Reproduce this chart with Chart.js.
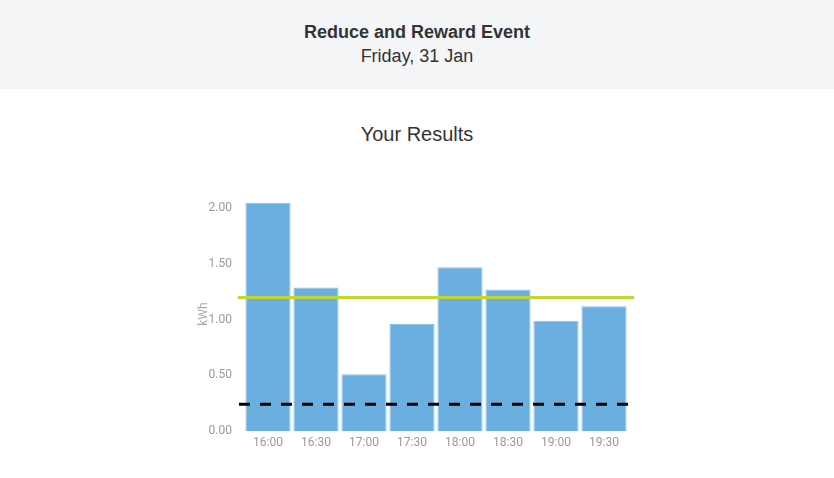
<!DOCTYPE html>
<html>
<head>
<meta charset="utf-8">
<script src="https://cdn.jsdelivr.net/npm/chart.js@4/dist/chart.umd.min.js"></script>
<style>
  html, body { margin: 0; padding: 0; background: #fff; width: 834px; height: 478px; overflow: hidden; }
  .header { position: absolute; left: 0; top: 0; width: 834px; height: 89px; background: #f4f5f7; font-family: "Liberation Sans", Arial, sans-serif; color: #333; text-align: center; }
  .h1 { position: absolute; left: 0; width: 100%; top: 22px; font-size: 18px; font-weight: bold; }
  .h2 { position: absolute; left: 0; width: 100%; top: 46px; font-size: 18px; }
  .sub { position: absolute; left: 0; width: 834px; top: 123px; text-align: center; font-family: "Liberation Sans", Arial, sans-serif; font-size: 20px; color: #333; }
  #wrap { position: absolute; left: 197px; top: 178px; width: 437px; height: 276px; }
</style>
</head>
<body>
<div class="header">
  <div class="h1">Reduce and Reward Event</div>
  <div class="h2">Friday, 31 Jan</div>
</div>
<div class="sub">Your Results</div>
<div id="wrap"><canvas id="c"></canvas></div>
<script>
const categories = ["16:00", "16:30", "17:00", "17:30", "18:00", "18:30", "19:00", "19:30"];
const usage = [2.05, 1.29, 0.51, 0.96, 1.47, 1.27, 0.99, 1.12];
const baselineValue = 1.20;
const targetValue = 0.24;
const yTicks = [0, 0.5, 1.0, 1.5, 2.0];
const yMax = 2.1;

const refLines = {
  id: 'refLines',
  afterDatasetsDraw(chart) {
    const { ctx, chartArea, scales } = chart;
    const y = scales.y;
    ctx.save();
    let py = y.getPixelForValue(baselineValue);
    ctx.strokeStyle = '#c3d62f';
    ctx.lineWidth = 3;
    ctx.beginPath();
    ctx.moveTo(chartArea.left - 6, py);
    ctx.lineTo(chartArea.right + 6, py);
    ctx.stroke();
    py = y.getPixelForValue(targetValue);
    ctx.strokeStyle = '#000';
    ctx.setLineDash([11, 10]);
    ctx.beginPath();
    ctx.moveTo(chartArea.left - 5, py);
    ctx.lineTo(chartArea.right, py);
    ctx.stroke();
    ctx.restore();
  }
};

new Chart(document.getElementById('c'), {
  type: 'bar',
  data: {
    labels: categories,
    datasets: [{
      data: usage,
      backgroundColor: '#6aafe0',
      borderColor: '#8cc2ea',
      borderWidth: 1,
      barPercentage: 0.94,
      categoryPercentage: 1.0
    }]
  },
  options: {
    responsive: true,
    maintainAspectRatio: false,
    animation: false,
    layout: { padding: { left: 0, right: 6, top: 0, bottom: 0 } },
    plugins: { legend: { display: false }, tooltip: { enabled: false } },
    scales: {
      x: {
        grid: { display: false, drawTicks: false },
        border: { display: false },
        ticks: { color: '#999', font: { family: 'Roboto', size: 12 }, padding: 5 },
        afterFit(s) { s.height = 23; }
      },
      y: {
        min: 0,
        max: yMax,
        grid: { display: false, drawTicks: false },
        border: { display: false },
        afterBuildTicks(s) { s.ticks = yTicks.map(v => ({ value: v })); },
        ticks: {
          color: '#999',
          font: { family: 'Roboto', size: 12 },
          padding: 12,
          callback: v => Number(v).toFixed(2)
        },
        title: { display: true, text: 'kWh', color: '#aaa', font: { family: 'Roboto', size: 12 }, padding: 0 },
        afterFit(s) { s.width = 47; }
      }
    }
  },
  plugins: [refLines]
});
</script>
</body>
</html>
